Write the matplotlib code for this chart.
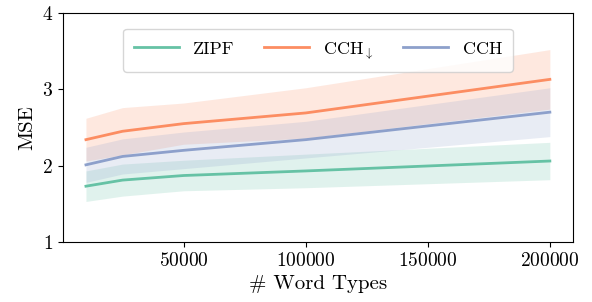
import numpy as np
import matplotlib
matplotlib.use("Agg")
import matplotlib.pyplot as plt

plt.rcParams['font.family'] = 'serif'
plt.rcParams['font.serif'] = ['cmr10']
plt.rcParams['mathtext.fontset'] = 'cm'
plt.rcParams['axes.formatter.use_mathtext'] = True

# data
word_types = [10000, 25000, 50000, 100000, 200000]
zipf_mean = [1.73, 1.81, 1.87, 1.93, 2.06]
zipf_sd = [0.20, 0.21, 0.20, 0.22, 0.245]
cch_down_mean = [2.34, 2.45, 2.55, 2.69, 3.13]
cch_down_sd = [0.28, 0.31, 0.27, 0.33, 0.39]
cch_mean = [2.01, 2.12, 2.20, 2.34, 2.70]
cch_sd = [0.23, 0.23, 0.24, 0.24, 0.32]

series = [
    ("ZIPF", zipf_mean, zipf_sd, "#66c2a5"),
    (r"CCH$_{\downarrow}$", cch_down_mean, cch_down_sd, "#fc8d62"),
    ("CCH", cch_mean, cch_sd, "#8da0cb"),
]

fig = plt.figure(figsize=(5.92, 3.02), dpi=100)
ax = fig.add_axes([0.106, 0.199, 0.862, 0.758])

x = np.array(word_types)
for label, mean, sd, color in series:
    m = np.array(mean)
    s = np.array(sd)
    ax.plot(x, m, color=color, lw=2, label=label)
    ax.fill_between(x, m - s, m + s, color=color, alpha=0.2, lw=0)

ax.set_ylim(1, 4)
ax.set_yticks([1, 2, 3, 4])
ax.set_xticks([50000, 100000, 150000, 200000])
ax.tick_params(labelsize=14)
ax.set_xlabel("# Word Types", fontsize=15)
ax.set_ylabel("MSE", fontsize=15)
ax.legend(loc="upper center", ncol=3, fontsize=13, handlelength=2.5,
          columnspacing=1.6, borderpad=0.6, bbox_to_anchor=(0.5, 0.97))

fig.savefig("out.png", dpi=100)
